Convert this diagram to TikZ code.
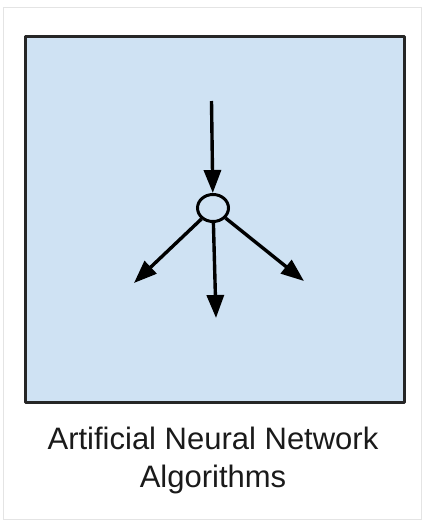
\documentclass[tikz,border=0pt]{standalone}
\usepackage{fontspec}
\setmainfont{Liberation Sans}
\usepackage{xcolor}
\usepackage{tikz}
\usetikzlibrary{arrows.meta, shapes.geometric, positioning}
\definecolor{panelblue}{RGB}{207,226,243}
\definecolor{framegray}{RGB}{228,228,228}
\definecolor{captiongray}{RGB}{26,26,26}

\begin{document}
\begin{tikzpicture}[
    x=1pt, y=-1pt,
    panel/.style={draw=black!85, fill=panelblue, line width=3.2pt, line join=round},
    neuron/.style={ellipse, draw=black, fill=panelblue, line width=3pt, minimum width=31pt, minimum height=27pt, inner sep=0pt},
    arrow/.style={-{Triangle[length=23pt, width=17pt]}, line width=3.4pt, black},
    caption/.style={font=\fontsize{31}{38}\selectfont, text=captiongray, align=center}
]
    % Frame and panel
    \useasboundingbox (0,0) rectangle (424,522);
    \draw[framegray, line width=1.5pt] (3.5,7.5) rectangle (421.5,519.5);
    \draw[panel] (25.5,36.5) rectangle (404.5,402.5);

    % Nodes
    \node[neuron] (cell) at (213,208) {};
    \coordinate (input) at (211.5,101);
    \coordinate (outleft) at (134,283);
    \coordinate (outmid) at (216,318);
    \coordinate (outright) at (304,281);

    % Arrows
    \draw[arrow] (input) -- (cell);
    \draw[arrow] (cell) -- (outleft);
    \draw[arrow] (cell) -- (outmid);
    \draw[arrow] (cell) -- (outright);

    % Caption
    \node[caption] (title) at (213,460) {Artificial Neural Network\\Algorithms};
\end{tikzpicture}
\end{document}
